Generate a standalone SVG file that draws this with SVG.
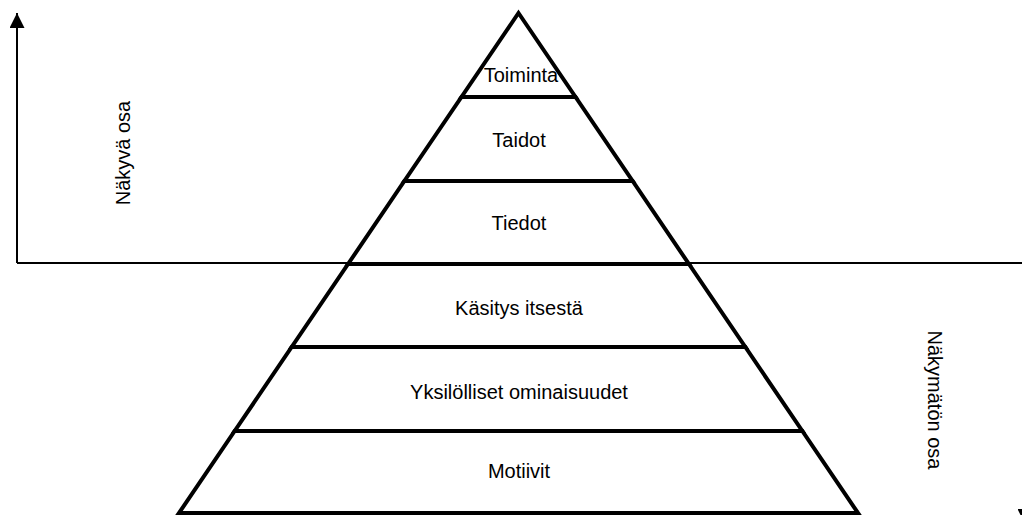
<svg xmlns="http://www.w3.org/2000/svg" width="1022" height="515" viewBox="0 0 1022 515">
  <style>
    .layer { fill: #ffffff; stroke: #000000; stroke-width: 4; stroke-linejoin: miter; }
    .label { font-family: "Liberation Sans", Arial, sans-serif; font-size: 20px; fill: #000000; text-anchor: middle; }
    .axis { fill: none; stroke: #000000; stroke-width: 2; }
  </style>
  <defs>
    <marker id="arrow" viewBox="0 0 16 15" refX="15" refY="7.5" markerWidth="16" markerHeight="15" markerUnits="userSpaceOnUse" orient="auto">
      <path d="M0 0 L15 7.5 L0 15 Z" fill="#000000"/>
    </marker>
  </defs>

  <rect width="1022" height="515" fill="#ffffff"/>

  <!-- visibility axes -->
  <g id="connectors">
    <path class="axis" d="M17 263 V 13" marker-end="url(#arrow)"/>
    <path class="axis" d="M17 263 H 1025"/>
    <path class="axis" d="M1025 263 V 524" marker-end="url(#arrow)"/>
  </g>

  <!-- pyramid layers, bottom to top -->
  <g id="motiivit">
    <polygon class="layer" points="234.7,431 802.3,431 858,513 179,513"/>
    <text class="label" x="519" y="478">Motiivit</text>
  </g>
  <g id="yksilolliset-ominaisuudet">
    <polygon class="layer" points="291.7,347 745.3,347 802.3,431 234.7,431"/>
    <text class="label" x="519" y="399">Yksilölliset ominaisuudet</text>
  </g>
  <g id="kasitys-itsesta">
    <polygon class="layer" points="348.1,264 688.9,264 745.3,347 291.7,347"/>
    <text class="label" x="519" y="315">Käsitys itsestä</text>
  </g>
  <g id="tiedot">
    <polygon class="layer" points="404.4,181 632.6,181 688.9,264 348.1,264"/>
    <text class="label" x="519" y="230">Tiedot</text>
  </g>
  <g id="taidot">
    <polygon class="layer" points="461.5,97 575.5,97 632.6,181 404.4,181"/>
    <text class="label" x="519" y="147">Taidot</text>
  </g>
  <g id="toiminta">
    <polygon class="layer" points="518.5,13 575.5,97 461.5,97"/>
    <text class="label" x="521" y="82">Toiminta</text>
  </g>

  <!-- side captions -->
  <g id="nakyva-osa">
    <text class="label" transform="translate(130,153) rotate(-90)">Näkyvä osa</text>
  </g>
  <g id="nakymaton-osa">
    <text class="label" transform="translate(928,400) rotate(90)">Näkymätön osa</text>
  </g>
</svg>
